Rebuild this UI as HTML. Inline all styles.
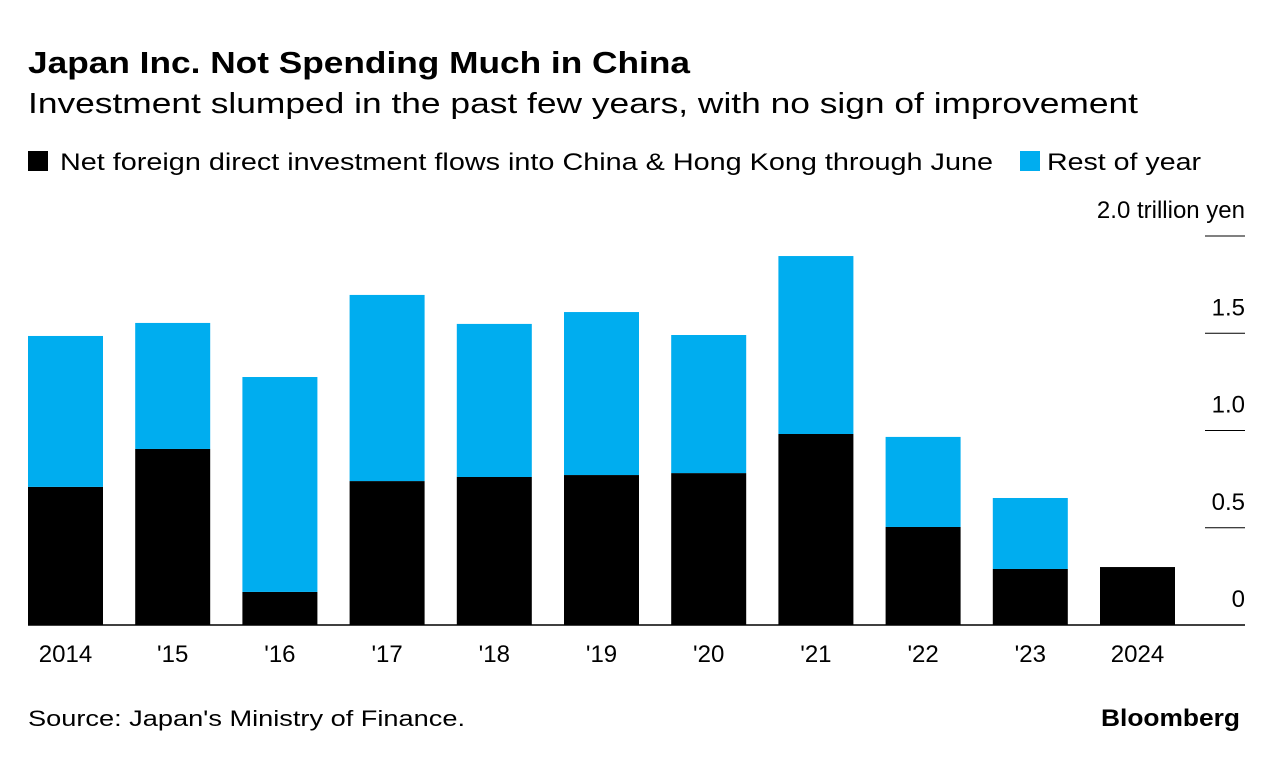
<!DOCTYPE html>
<html><head><meta charset="utf-8">
<style>
body{margin:0;background:#fff;width:1279px;height:760px;overflow:hidden;font-family:"Liberation Sans",Arial,sans-serif;}
</style></head>
<body>
<svg width="1279" height="760" xmlns="http://www.w3.org/2000/svg" font-family="Liberation Sans, Arial, sans-serif">
<text x="28" y="73" font-size="31" font-weight="bold" fill="#000" textLength="662" lengthAdjust="spacingAndGlyphs">Japan Inc. Not Spending Much in China</text>
<text x="28" y="113" font-size="29" fill="#000" textLength="1110" lengthAdjust="spacingAndGlyphs">Investment slumped in the past few years, with no sign of improvement</text>
<g>
<rect x="28" y="151" width="20" height="20" fill="#000"/>
<text x="60" y="170" font-size="24" fill="#000" textLength="933" lengthAdjust="spacingAndGlyphs">Net foreign direct investment flows into China &amp; Hong Kong through June</text>
<rect x="1020" y="151" width="20" height="20" fill="#00adef"/>
<text x="1047" y="170" font-size="24" fill="#000" textLength="154" lengthAdjust="spacingAndGlyphs">Rest of year</text>
</g>
<g id="plot"></g>
<text x="28" y="726" font-size="22" fill="#000" textLength="437" lengthAdjust="spacingAndGlyphs">Source: Japan's Ministry of Finance.</text>
<text x="1240" y="726" font-size="24" font-weight="bold" fill="#000" text-anchor="end" textLength="139" lengthAdjust="spacingAndGlyphs">Bloomberg</text>
</svg>
<script>
const categories=["2014","'15","'16","'17","'18","'19","'20","'21","'22","'23","2024"];
const throughJune=[0.71,0.905,0.17,0.74,0.761,0.771,0.781,0.982,0.504,0.288,0.298];
const restOfYear=[0.776,0.648,1.105,0.957,0.787,0.838,0.71,0.915,0.463,0.365,0];
const yTicks=[0,0.5,1.0,1.5,2.0];
const yTickLabels=["0","0.5","1.0","1.5","2.0 trillion yen"];
const NS="http://www.w3.org/2000/svg";
const g=document.getElementById('plot');
const y=v=>625-v*194.5;
const x=i=>28+i*107.2;
const bw=75;
function mk(t,a){const e=document.createElementNS(NS,t);for(const k in a)e.setAttribute(k,a[k]);g.appendChild(e);return e;}
yTicks.forEach((v,i)=>{
  if(v>0){const l=mk('line',{x1:1205,x2:1245,y1:y(v),y2:y(v),stroke:'#000','stroke-width':1});
  
  }
  const t=mk('text',{x:1245,y:y(v)-18,'font-size':24,'text-anchor':'end',fill:'#000'});
  t.textContent=yTickLabels[i];
  
  
});
categories.forEach((c,i)=>{
  const b=mk('rect',{x:x(i),y:y(throughJune[i]),width:bw,height:y(0)-y(throughJune[i]),fill:'#000'});
  
  
  if(restOfYear[i]>0){
    const top=throughJune[i]+restOfYear[i];
    const r=mk('rect',{x:x(i),y:y(top),width:bw,height:y(throughJune[i])-y(top),fill:'#00adef'});
    
    
  }
  const t=mk('text',{x:x(i)+bw/2,y:662,'font-size':24,'text-anchor':'middle',fill:'#000'});
  t.textContent=c;
  
  
});
const base=mk('line',{x1:28,x2:1245,y1:y(0),y2:y(0),stroke:'#000','stroke-width':1.5});


</script>
</body></html>
